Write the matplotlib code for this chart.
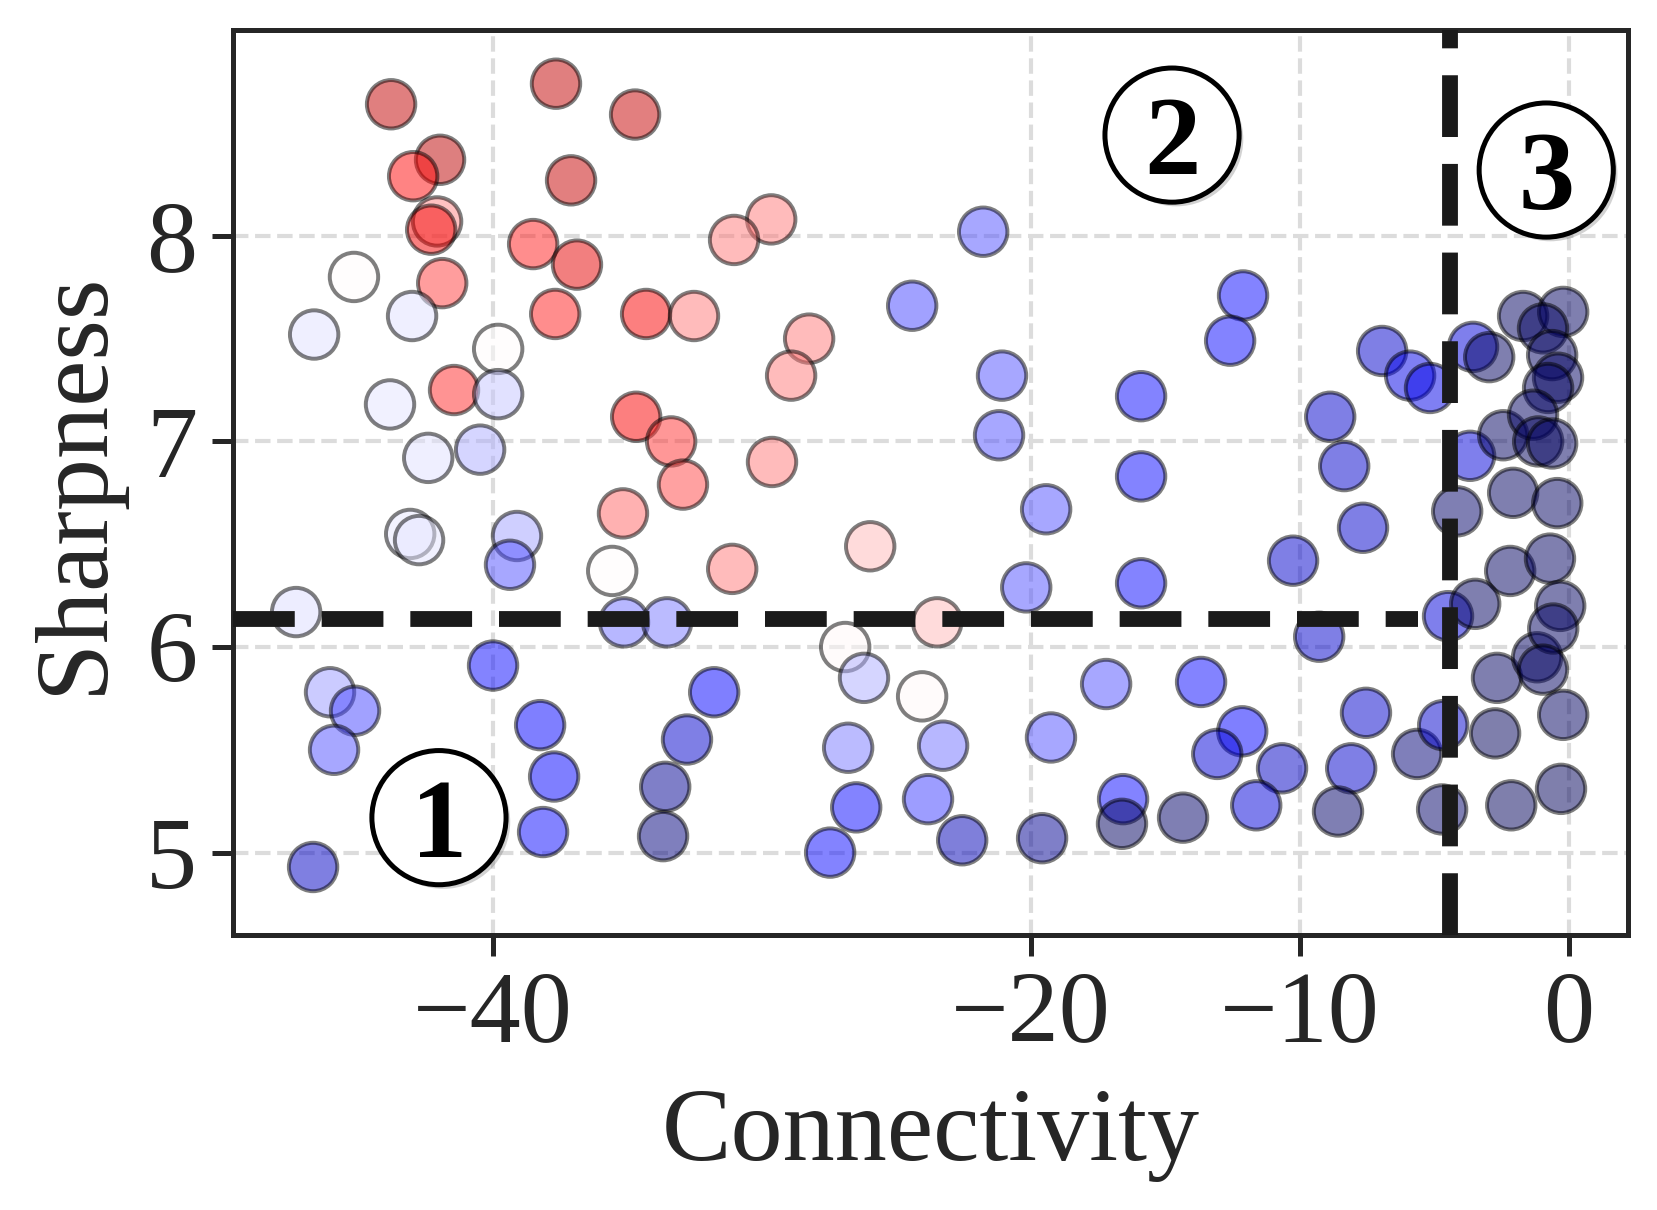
import matplotlib
matplotlib.use("Agg")
import matplotlib.pyplot as plt
import matplotlib.patheffects as pe

plt.rcParams["font.family"] = ["Liberation Serif", "DejaVu Serif"]

# connectivity (x), sharpness (y), colour value (0 = dark blue, 0.5 = white, 1 = dark red)
connectivity = [
    -43.78, -37.65, -34.71, -41.96, -42.96, -37.09, -42.07, -42.29, -38.50, -36.87,
    -45.16, -41.88, -43.00, -46.64, -37.68, -34.30, -39.80, -41.44, -39.80, -43.82,
    -34.67, -42.40, -40.47, -33.37, -32.93, -35.16, -43.07, -42.74, -39.10, -39.36,
    -35.56, -47.31, -35.12, -33.52, -39.99, -46.05, -45.12, -45.90, -46.68, -38.24,
    -37.72, -38.13, -31.77, -32.78, -33.59, -33.67, -29.65, -31.03, -21.77, -32.52,
    -24.41, -28.24, -28.91, -21.07, -21.18, -15.90, -15.90, -29.62, -19.43, -25.97,
    -31.10, -20.17, -15.90, -23.48, -26.90, -26.20, -24.04, -17.20, -26.79, -23.26,
    -19.25, -26.49, -23.82, -27.46, -22.55, -19.58, -16.57, -16.61, -14.34,
    -12.11, -12.59, -6.94, -5.90, -5.16, -8.87, -8.35, -7.65, -10.25, -9.28,
    -4.49, -13.67, -12.14, -13.07, -10.66, -11.62, -7.54, -8.09, -8.58, -5.64,
    -4.67, -4.71, -3.56, -2.96, -1.70, -3.67, -4.15, -2.44, -2.07, -2.18,
    -3.48, -2.67, -1.18, -2.74, -2.14, -0.29, -0.21, -0.96, -0.62, -0.40,
    -0.77, -1.33, -1.14, -0.62, -0.43, -0.70, -0.32, -0.58, -0.96, -0.21,
]
sharpness = [
    8.64, 8.74, 8.59, 8.37, 8.29, 8.27, 8.07, 8.03, 7.96, 7.86,
    7.80, 7.77, 7.61, 7.52, 7.62, 7.62, 7.45, 7.25, 7.23, 7.18,
    7.12, 6.92, 6.96, 7.00, 6.79, 6.65, 6.55, 6.52, 6.54, 6.40,
    6.37, 6.17, 6.12, 6.12, 5.91, 5.78, 5.69, 5.50, 4.93, 5.62,
    5.37, 5.10, 5.78, 5.55, 5.32, 5.08, 8.08, 7.98, 8.02, 7.61,
    7.66, 7.50, 7.32, 7.32, 7.03, 7.22, 6.83, 6.90, 6.67, 6.49,
    6.38, 6.29, 6.31, 6.12, 6.00, 5.85, 5.76, 5.82, 5.51, 5.52,
    5.56, 5.22, 5.26, 5.00, 5.06, 5.07, 5.26, 5.14, 5.17,
    7.71, 7.49, 7.44, 7.32, 7.26, 7.12, 6.88, 6.58, 6.42, 6.05,
    6.15, 5.83, 5.59, 5.48, 5.41, 5.23, 5.68, 5.41, 5.20, 5.48,
    5.62, 5.21, 7.46, 7.41, 7.61, 6.93, 6.66, 7.03, 6.75, 6.37,
    6.21, 5.85, 5.95, 5.58, 5.23, 5.31, 7.63, 7.55, 7.42, 7.31,
    7.26, 7.13, 7.00, 6.99, 6.70, 6.43, 6.20, 6.09, 5.89, 5.67,
]
shade = [
    0.87, 0.87, 0.86, 0.88, 0.74, 0.86, 0.62, 0.77, 0.72, 0.80,
    0.50, 0.69, 0.47, 0.47, 0.72, 0.76, 0.50, 0.71, 0.445, 0.475,
    0.76, 0.47, 0.42, 0.70, 0.68, 0.65, 0.48, 0.475, 0.41, 0.33,
    0.50, 0.465, 0.36, 0.37, 0.26, 0.40, 0.32, 0.33, 0.17, 0.25,
    0.25, 0.26, 0.25, 0.18, 0.10, 0.07, 0.63, 0.63, 0.33, 0.63,
    0.32, 0.63, 0.63, 0.33, 0.33, 0.26, 0.26, 0.63, 0.33, 0.57,
    0.63, 0.33, 0.26, 0.57, 0.505, 0.42, 0.505, 0.33, 0.37, 0.36,
    0.33, 0.26, 0.31, 0.26, 0.15, 0.10, 0.26, 0.03, 0.04,
    0.26, 0.26, 0.18, 0.22, 0.22, 0.18, 0.18, 0.18, 0.18, 0.18,
    0.20, 0.26, 0.25, 0.20, 0.17, 0.20, 0.18, 0.18, 0.04, 0.06,
    0.18, 0.04, 0.20, 0.03, 0.03, 0.20, 0.04, 0.03, 0.03, 0.03,
    0.03, 0.03, 0.03, 0.02, 0.02, 0.02, 0.03, 0.03, 0.03, 0.03,
    0.03, 0.03, 0.02, 0.03, 0.03, 0.03, 0.03, 0.03, 0.03, 0.03,
]

# region thresholds and circled region labels
sharp_cut = 6.135
conn_cut = -4.41
region_labels = ["1", "2", "3"]
region_pos = [(-42.0, 5.17), (-14.75, 8.49), (-0.84, 8.32)]

fig = plt.figure(figsize=(1657 / 300, 1210 / 300), dpi=300)
ax = fig.add_axes([0.1404, 0.2269, 0.8421, 0.7481])

ax.scatter(connectivity, sharpness, c=shade, cmap="seismic", vmin=0, vmax=1,
           s=135, alpha=0.5, edgecolors="black", linewidths=0.95, zorder=3)

ax.set_xlim(-49.67, 2.2)
ax.set_ylim(4.597, 9.0)

ax.plot([-49.67, -5.6], [sharp_cut, sharp_cut], color="#1a1a1a", lw=3.8,
        ls=(0, (3.9, 1.7)), zorder=4, dash_capstyle="butt")
ax.axvline(conn_cut, color="#1a1a1a", lw=3.8, ls=(0, (3.9, 1.7)), zorder=4,
           dash_capstyle="butt")

for lab, (px, py) in zip(region_labels, region_pos):
    ax.plot([px], [py], marker="o", ms=32.2, mfc="white", mec="black", mew=1.2,
            zorder=6, path_effects=[pe.SimplePatchShadow(offset=(1.0, -1.0), alpha=0.25),
                                    pe.Normal()])
    ax.text(px, py, lab, fontsize=27, fontweight="bold", ha="center",
            va="center_baseline", color="black", zorder=7)

ax.set_xticks([-40, -20, -10, 0])
ax.set_yticks([5, 6, 7, 8])
ax.grid(True, ls="--", lw=1.0, color="#dcdcdc", zorder=0)
ax.set_axisbelow(True)

for sp in ax.spines.values():
    sp.set_linewidth(1.2)
    sp.set_color("#262626")
ax.tick_params(axis="both", labelsize=24.5, length=5, width=1.2,
               color="#262626", labelcolor="#262626")

ax.set_xlabel("Connectivity", fontsize=25, color="#262626", labelpad=6)
ax.set_ylabel("Sharpness", fontsize=25, color="#262626", labelpad=5.5)

fig.savefig("out.png", dpi=300)
